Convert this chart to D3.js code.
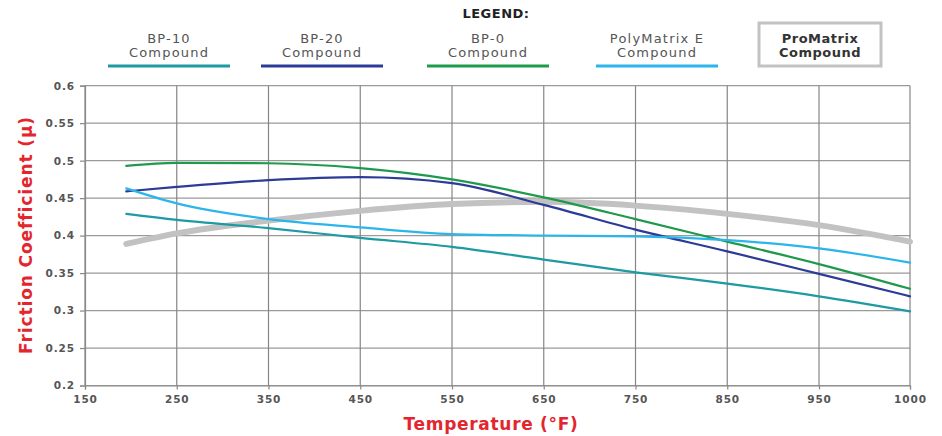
<!DOCTYPE html>
<html>
<head>
<meta charset="utf-8">
<script src="https://cdn.jsdelivr.net/npm/d3@7.9.0/dist/d3.min.js"></script>
<style>
  body { margin: 0; background: #fff; }
  text { font-family: "DejaVu Sans", sans-serif; }
</style>
</head>
<body>
<svg id="chart" width="942" height="436"></svg>
<script>
// temperatures (°F) the curves were read at
const temps = [195, 250, 350, 450, 550, 650, 750, 850, 950, 1000];

const bp10 = [0.429, 0.421, 0.410, 0.397, 0.385, 0.368, 0.351, 0.336, 0.319, 0.299];
const bp20 = [0.459, 0.465, 0.474, 0.478, 0.470, 0.441, 0.408, 0.379, 0.349, 0.319];
const bp0 = [0.493, 0.497, 0.4965, 0.490, 0.475, 0.451, 0.422, 0.392, 0.362, 0.329];
const polyMatrixE = [0.463, 0.443, 0.422, 0.411, 0.402, 0.400, 0.399, 0.394, 0.383, 0.364];
const proMatrix = [0.389, 0.403, 0.420, 0.433, 0.442, 0.445, 0.440, 0.429, 0.414, 0.392];

const xTicks = [150, 250, 350, 450, 550, 650, 750, 850, 950, 1000];
const yTicks = [0.2, 0.25, 0.3, 0.35, 0.4, 0.45, 0.5, 0.55, 0.6];

const seriesNames = ['BP-10', 'BP-20', 'BP-0', 'PolyMatrix E', 'ProMatrix'];
const seriesColors = ['#1e9aa3', '#2c3b97', '#1f9a4c', '#2bb5ea', '#c2c2c2'];
const seriesValues = [bp10, bp20, bp0, polyMatrixE, proMatrix];

const svg = d3.select('#chart');
const plot = { left: 85, right: 910, top: 85.7, bottom: 385.5 };

// gridlines are evenly spaced, the last step is only 50 degrees
const x = d3.scaleLinear().domain([150, 950, 1000]).range([plot.left, 819, plot.right]);
const y = d3.scaleLinear().domain([0.2, 0.6]).range([plot.bottom, plot.top]);

// grid
svg.append('g').selectAll('line').data(yTicks).join('line')
  .attr('x1', plot.left).attr('x2', plot.right)
  .attr('y1', d => y(d)).attr('y2', d => y(d))
  .attr('stroke', '#9a9a9a').attr('stroke-width', 1.2);
svg.append('g').selectAll('line').data(xTicks).join('line')
  .attr('x1', d => x(d)).attr('x2', d => x(d))
  .attr('y1', plot.top).attr('y2', plot.bottom)
  .attr('stroke', '#858585').attr('stroke-width', 1.2);

const xAxis = svg.append('g').attr('transform', `translate(0,${plot.bottom})`)
  .call(d3.axisBottom(x).tickValues(xTicks).tickSize(4).tickPadding(6).tickFormat(d3.format('d')));
const yAxis = svg.append('g').attr('transform', `translate(${plot.left},0)`)
  .call(d3.axisLeft(y).tickValues(yTicks).tickSize(5).tickPadding(5).tickFormat(d => String(d)));

[xAxis, yAxis].forEach(g => {
  g.select('.domain').attr('stroke', '#888').attr('stroke-width', 1.2);
  g.selectAll('.tick line').attr('stroke', '#888').attr('stroke-width', 1.2);
  g.selectAll('.tick text').attr('fill', '#555')
    .style('font-family', '"DejaVu Sans", sans-serif')
    .style('font-size', '10.5px').style('font-weight', 'bold').style('letter-spacing', '0.9px');
});

// curves
const line = d3.line()
  .x((d, i) => x(temps[i]))
  .y(d => y(d))
  .curve(d3.curveMonotoneX);

// ProMatrix drawn first and thickest
const order = [4, 0, 1, 2, 3];
order.forEach(k => {
  svg.append('path')
    .attr('d', line(seriesValues[k]))
    .attr('fill', 'none')
    .attr('stroke', seriesColors[k])
    .attr('stroke-width', k === 4 ? 6 : 2.2)
    .attr('stroke-linecap', 'round');
});

// axis titles
svg.append('text')
  .attr('transform', 'translate(32,235) rotate(-90)')
  .attr('text-anchor', 'middle')
  .attr('fill', '#e3262e').style('font-weight', 'bold').style('font-size', '17px')
  .style('letter-spacing', '0.9px')
  .text('Friction Coefficient (μ)');

svg.append('text')
  .attr('x', 491).attr('y', 430)
  .attr('text-anchor', 'middle')
  .attr('fill', '#e3262e').style('font-weight', 'bold').style('font-size', '17px')
  .style('letter-spacing', '0.7px')
  .text('Temperature (°F)');

// legend
svg.append('text')
  .attr('x', 496).attr('y', 18).attr('text-anchor', 'middle')
  .attr('fill', '#222').style('font-weight', 'bold').style('font-size', '13px')
  .style('letter-spacing', '0.5px')
  .text('LEGEND:');

const legendX = [169, 322, 488, 657, 820];
seriesNames.forEach((name, k) => {
  const g = svg.append('g').attr('transform', `translate(${legendX[k]},0)`);
  const bold = k === 4;
  if (bold) {
    g.append('rect').attr('x', -61).attr('y', 23).attr('width', 122).attr('height', 43)
      .attr('fill', '#fff').attr('stroke', seriesColors[k]).attr('stroke-width', 3);
  } else {
    g.append('line').attr('x1', -61).attr('x2', 61).attr('y1', 66).attr('y2', 66)
      .attr('stroke', seriesColors[k]).attr('stroke-width', 3);
  }
  [name, 'Compound'].forEach((t, j) => {
    g.append('text')
      .attr('y', 43 + j * 14).attr('text-anchor', 'middle')
      .attr('fill', bold ? '#333' : '#555')
      .style('font-size', '13px')
      .style('font-weight', bold ? 'bold' : 'normal')
      .style('letter-spacing', bold ? '0.5px' : '1.2px')
      .text(t);
  });
});
</script>
</body>
</html>
